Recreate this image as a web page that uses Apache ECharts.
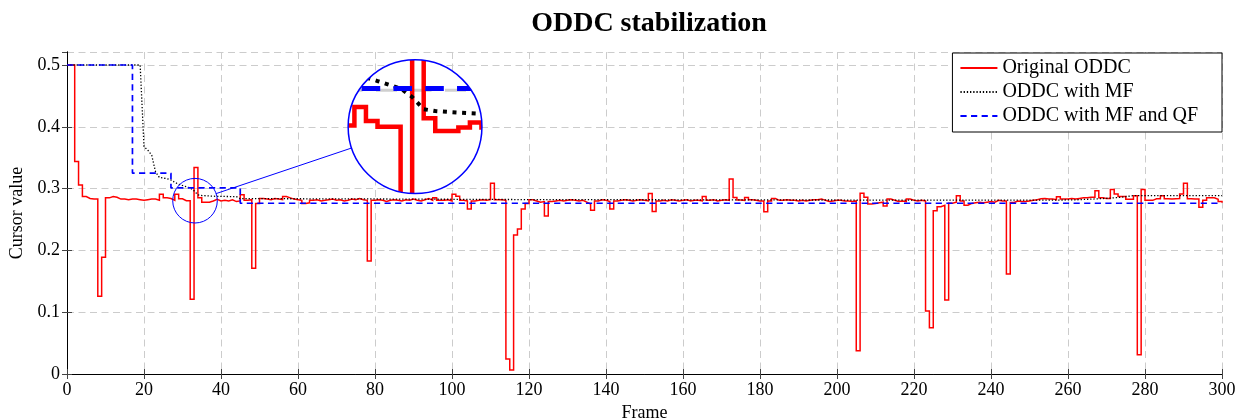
<!DOCTYPE html>
<html><head><meta charset="utf-8">
<script src="https://cdn.jsdelivr.net/npm/echarts@6/dist/echarts.min.js"></script>
<style>html,body{margin:0;padding:0;background:#fff}#c{width:1247px;height:419px}</style>
</head><body><div id="c"></div>
<script>
// ---- data (value per frame, frames 0..300) ----
const red = [
0.5,0.5,0.344,0.306,0.287,0.284,0.283,0.283,0.126,0.189,
0.285,0.287,0.286,0.283,0.283,0.282,0.283,0.283,0.282,0.281,
0.282,0.283,0.283,0.281,0.291,0.285,0.284,0.281,0.291,0.2835,
0.2803,0.2803,0.121,0.334,0.285,0.278,0.278,0.280,0.2826,0.280,
0.281,0.280,0.282,0.279,0.280,0.290,0.281,0.282,0.171,0.276,
0.284,0.283,0.282,0.284,0.283,0.282,0.287,0.285,0.283,0.282,
0.281,0.276,0.277,0.281,0.282,0.280,0.281,0.282,0.283,0.281,
0.282,0.280,0.281,0.283,0.282,0.284,0.282,0.281,0.183,0.281,
0.282,0.281,0.279,0.281,0.282,0.281,0.280,0.282,0.281,0.283,
0.281,0.280,0.282,0.284,0.281,0.285,0.281,0.281,0.282,0.280,
0.291,0.2876,0.281,0.280,0.267,0.280,0.281,0.282,0.281,0.282,
0.3085,0.282,0.282,0.281,0.0243,0.0065,0.225,0.2346,0.267,0.276,
0.282,0.280,0.278,0.279,0.2557,0.279,0.280,0.281,0.280,0.281,
0.282,0.281,0.280,0.281,0.278,0.275,0.265,0.280,0.282,0.281,
0.279,0.267,0.280,0.281,0.282,0.281,0.280,0.281,0.282,0.281,
0.280,0.292,0.263,0.280,0.281,0.280,0.282,0.281,0.280,0.281,
0.282,0.280,0.281,0.281,0.280,0.287,0.281,0.282,0.280,0.281,
0.282,0.281,0.3155,0.2854,0.2816,0.281,0.2854,0.282,0.281,0.280,
0.280,0.2627,0.280,0.284,0.281,0.281,0.282,0.281,0.281,0.280,
0.281,0.280,0.281,0.282,0.282,0.2833,0.281,0.279,0.280,0.281,
0.281,0.280,0.280,0.279,0.280,0.0377,0.2924,0.286,0.275,0.276,
0.277,0.278,0.272,0.283,0.281,0.279,0.280,0.279,0.283,0.281,
0.280,0.281,0.280,0.102,0.075,0.2643,0.2705,0.273,0.1197,0.2763,
0.278,0.2886,0.280,0.273,0.276,0.277,0.278,0.277,0.278,0.279,
0.278,0.281,0.280,0.280,0.162,0.2776,0.280,0.279,0.279,0.280,
0.281,0.282,0.2835,0.284,0.283,0.283,0.282,0.2868,0.283,0.283,
0.284,0.283,0.284,0.285,0.285,0.286,0.286,0.2966,0.285,0.284,
0.284,0.2985,0.2913,0.287,0.287,0.2826,0.2826,0.2886,0.031,0.2985,
0.281,0.281,0.2835,0.2835,0.2886,0.2835,0.283,0.2835,0.284,0.2913,
0.3085,0.2835,0.283,0.283,0.2697,0.281,0.285,0.285,0.2826,0.279,
0.277
];
// [frame, value] change points
const blackMF = [[0,0.5],[19,0.5],[20,0.368],[21,0.362],[22,0.354],[23,0.327],[24,0.318],[25,0.317],[26,0.316],[27,0.314],[28,0.310],[29,0.307],[30,0.305],[31,0.303],[32,0.301],[33,0.2964],[34,0.2898],[35,0.2888],[36,0.2884],[37,0.288],[38,0.2877],[39,0.2874],[44,0.287],[45,0.2838],[80,0.2832],[120,0.2822],[200,0.2815],[255,0.2812],[262,0.2818],[268,0.2835],[273,0.2855],[277,0.2886],[300,0.2886]];
const blueMFQF = [[0,0.5],[17,0.325],[27,0.301],[45,0.2763],[300,0.2763]];
const seriesNames = ['Original ODDC','ODDC with MF','ODDC with MF and QF'];
const xTickStep = 20, yTickStep = 0.1;

// spy (magnifier) settings
const SPY_ON = [33.25, 0.2804];
const SPY_AT = [90.4, 0.4002];
const SPY_R = 22.3;
const SPY_MAG = 3;

const FONT = 'Liberation Serif';
const chart = echarts.init(document.getElementById('c'), null, {renderer:'canvas'});

function renderSpy(params, api) {
  const on = api.coord(SPY_ON), at = api.coord(SPY_AT);
  const R = SPY_R * SPY_MAG;
  const T = (x, y) => { const c = api.coord([x, y]); return [at[0] + SPY_MAG*(c[0]-on[0]), at[1] + SPY_MAG*(c[1]-on[1])]; };
  const redPts = [];
  for (let i = 0; i < red.length - 1; i++) { redPts.push(T(i, red[i]), T(i+1, red[i])); }
  const blackPts = blackMF.map(p => T(p[0], p[1]));
  const bluePts = [];
  for (let k = 0; k < blueMFQF.length - 1; k++) { const a = blueMFQF[k], b = blueMFQF[k+1]; bluePts.push(T(a[0], a[1]), T(b[0], a[1])); }
  const gridPts = [T(0, 0.3), T(80, 0.3)];
  const dx = at[0]-on[0], dy = at[1]-on[1], dl = Math.hypot(dx, dy);
  const ux = dx/dl, uy = dy/dl;
  return {
    type: 'group',
    children: [
      { type: 'group',
        clipPath: { type: 'circle', shape: { cx: at[0], cy: at[1], r: R } },
        children: [
          { type: 'circle', shape: { cx: at[0], cy: at[1], r: R }, style: { fill: '#ffffff', stroke: 'none' } },
          { type: 'polyline', shape: { points: gridPts }, style: { fill: 'none', stroke: '#cfcfcf', lineWidth: 3, lineDash: [21, 13.5] } },
          { type: 'polyline', shape: { points: redPts }, style: { fill: 'none', stroke: '#ff0000', lineWidth: 4.5, lineJoin: 'miter' } },
          { type: 'polyline', shape: { points: blackPts }, style: { fill: 'none', stroke: '#000000', lineWidth: 4, lineDash: [4, 5.6] } },
          { type: 'polyline', shape: { points: bluePts }, style: { fill: 'none', stroke: '#0000ff', lineWidth: 5, lineDash: [18.6, 13.2] } }
        ]
      },
      { type: 'circle', shape: { cx: at[0], cy: at[1], r: R }, style: { fill: 'none', stroke: '#0000ff', lineWidth: 1.5 } },
      { type: 'circle', shape: { cx: on[0], cy: on[1], r: SPY_R }, style: { fill: 'none', stroke: '#0000ff', lineWidth: 1 } },
      { type: 'line', shape: { x1: on[0] + ux*SPY_R, y1: on[1] + uy*SPY_R, x2: at[0] - ux*R, y2: at[1] - uy*R }, style: { stroke: '#0000ff', lineWidth: 1 } }
    ]
  };
}

const splitLine = { show: true, lineStyle: { color: '#cccccc', width: 1, type: [7, 4.5] } };
const axisLine = { show: true, lineStyle: { color: '#000', width: 1 } };
const tick = { show: true, inside: true, length: 5, lineStyle: { color: '#444' } };
const labelStyle = { fontFamily: FONT, fontSize: 18, color: '#000' };

chart.setOption({
  animation: false,
  backgroundColor: '#fff',
  title: { text: 'ODDC stabilization', left: 644, top: 5, textAlign: 'center',
    textStyle: { fontFamily: FONT, fontWeight: 'bold', fontSize: 28, color: '#000' } },
  grid: { left: 67, top: 52, width: 1155, height: 322, containLabel: false, outerBoundsMode: 'none' },
  legend: {
    data: seriesNames, orient: 'vertical', right: 25, top: 53,
    padding: [5, 24, 6, 7], itemWidth: 37, itemHeight: 14, itemGap: 4,
    backgroundColor: '#fff', borderColor: '#000', borderWidth: 1, borderRadius: 0,
    itemStyle: { opacity: 0 },
    textStyle: { fontFamily: FONT, fontSize: 20, lineHeight: 20, color: '#000' }
  },
  xAxis: [
    { type: 'value', min: 0, max: 300, interval: xTickStep, position: 'bottom',
      name: 'Frame', nameLocation: 'middle', nameGap: 27, nameTextStyle: labelStyle,
      axisLine, axisTick: tick, axisLabel: Object.assign({ margin: 7 }, labelStyle), splitLine },
    { type: 'value', min: 0, max: 300, interval: xTickStep, position: 'top',
      axisLine, axisTick: tick, axisLabel: { show: false }, splitLine: { show: false } }
  ],
  yAxis: [
    { type: 'value', min: 0, max: 0.521, interval: yTickStep, position: 'left',
      name: 'Cursor value', nameLocation: 'middle', nameGap: 40, nameTextStyle: labelStyle,
      axisLine, axisTick: tick, axisLabel: Object.assign({ margin: 7, showMaxLabel: false }, labelStyle), splitLine },
    { type: 'value', min: 0, max: 0.521, interval: yTickStep, position: 'right',
      axisLine, axisTick: tick, axisLabel: { show: false }, splitLine: { show: false } }
  ],
  series: [
    { name: seriesNames[0], type: 'line', data: red.map((v, i) => [i, v]), step: 'end', symbol: 'none',
      lineStyle: { color: '#ff0000', width: 1.5, join: 'miter' }, itemStyle: { color: '#ff0000' }, z: 3 },
    { name: seriesNames[1], type: 'line', data: blackMF, symbol: 'none',
      lineStyle: { color: '#000000', width: 1.3, type: [1.3, 1.9] }, itemStyle: { color: '#000000' }, z: 4 },
    { name: seriesNames[2], type: 'line', data: blueMFQF, step: 'end', symbol: 'none',
      lineStyle: { color: '#0000ff', width: 1.7, type: [6.2, 4.4] }, itemStyle: { color: '#0000ff' }, z: 5 },
    { type: 'custom', renderItem: renderSpy, data: [[0, 0]], z: 10, clip: false, silent: true }
  ]
});
</script>
</body></html>
